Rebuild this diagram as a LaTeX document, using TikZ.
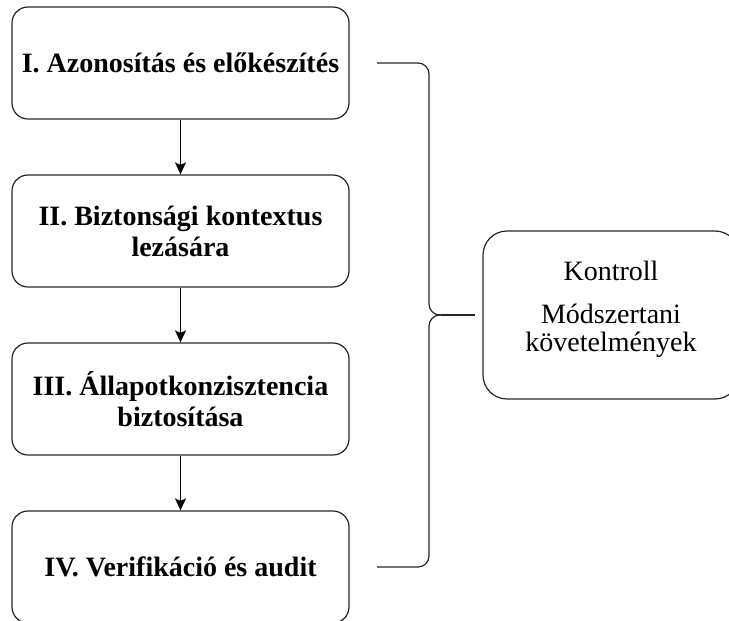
\documentclass[tikz,border=0pt]{standalone}
\usepackage{fontspec}
\setmainfont{Liberation Serif}
\usetikzlibrary{arrows.meta}
\begin{document}
\begin{tikzpicture}[x=1pt,y=-1pt,
  stepbox/.style={draw=black!85, line width=1.2pt, rounded corners=16pt,
    minimum width=337pt, minimum height=112pt, inner sep=0pt, align=center,
    font=\fontsize{28}{31}\selectfont\bfseries},
  ctrlbox/.style={draw=black!85, line width=1.2pt, rounded corners=24pt,
    minimum width=256pt, minimum height=168pt, inner sep=0pt, align=center,
    font=\fontsize{28}{28}\selectfont},
  arr/.style={draw=black, line width=1.2pt, -{Stealth[length=12pt,width=11pt,inset=2.5pt]}},
  brace/.style={draw=black!85, line width=1.2pt, rounded corners=11pt}]
\useasboundingbox (0,0) rectangle (729,621);
\node[stepbox] (b1) at (180.5,63) {I. Azonosítás és előkészítés};
\node[stepbox] (b2) at (180.5,231) {II. Biztonsági kontextus\\lezására};
\node[stepbox] (b3) at (180.5,399) {III. Állapotkonzisztencia\\biztosítása};
\node[stepbox] (b4) at (180.5,567) {IV. Verifikáció és audit};
\node[ctrlbox] (k) at (611,315) {};
\node[font=\fontsize{28}{28}\selectfont, align=center, inner sep=0pt] (kt) at (611,309) {Kontroll\\[15pt]Módszertani\\követelmények};
\draw[arr] (b1) -- (b2);
\draw[arr] (b2) -- (b3);
\draw[arr] (b3) -- (b4);
\coordinate (s1) at (377,63);
\coordinate (s4) at (377,567);
\coordinate (tip) at (441,315);
\draw[brace] (s1) -- (429,63) -- (429,315) -- (tip);
\draw[brace] (s4) -- (429,567) -- (429,315) -- (tip);
\draw[draw=black!85, line width=1.2pt, shorten >=7pt] (tip) -- (k.west);
\end{tikzpicture}
\end{document}
